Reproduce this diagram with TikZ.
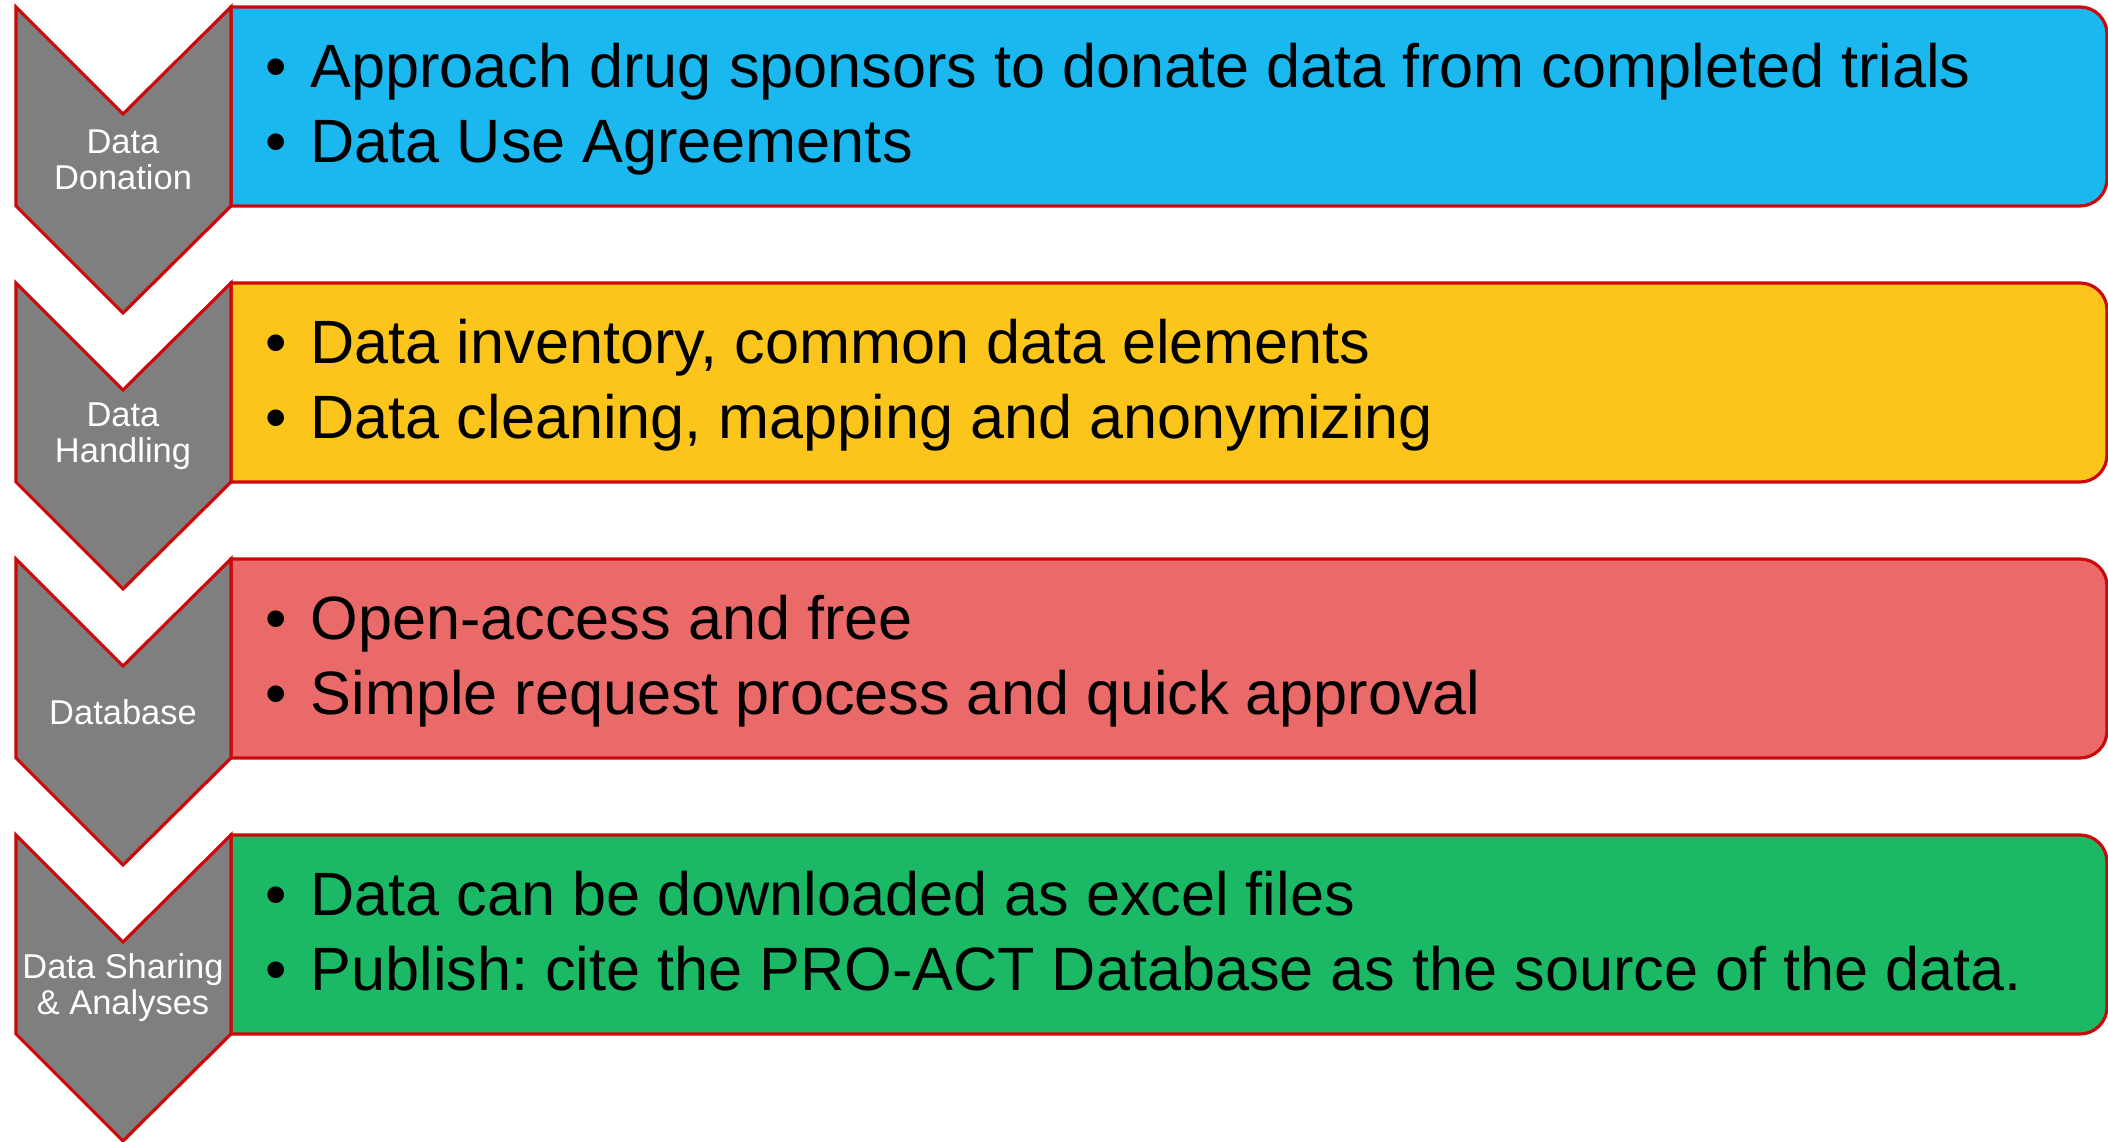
\documentclass[tikz,border=0pt]{standalone}
\usepackage{fontspec}
\setmainfont{Liberation Sans}
\frenchspacing
\definecolor{chevgray}{RGB}{127,127,127}
\definecolor{edgered}{RGB}{204,8,8}
\definecolor{bandblue}{RGB}{27,183,239}
\definecolor{bandyellow}{RGB}{252,197,28}
\definecolor{bandred}{RGB}{234,106,106}
\definecolor{bandgreen}{RGB}{27,184,101}

\begin{document}
\begin{tikzpicture}[x=0.01cm,y=0.01cm,
        chevron/.style={fill=chevgray,draw=edgered,line width=0.9pt,line join=miter},
        band/.style={draw=edgered,line width=0.9pt},
        steplabel/.style={text=white,align=center,inner sep=0pt,
            font=\fontsize{9.8}{10.25}\selectfont},
        item/.style={anchor=base west,inner sep=0pt,
            font=\fontsize{17.4}{21.3}\selectfont}]
    \useasboundingbox (0,0) rectangle (2108,1142);

    % Data Donation
    \begin{scope}[shift={(0,1135)}]
        \draw[band,fill=bandblue]
            (231,0) -- (2080,0) arc[start angle=90,end angle=0,radius=27]
                    -- (2107,-172) arc[start angle=0,end angle=-90,radius=27]
                    -- (231,-199) -- cycle;
        \draw[chevron] (16,0) -- (123,-107) -- (231,0) -- (231,-199)
                    -- (123,-306) -- (16,-199) -- cycle;
        \node[steplabel] (donation) at (123,-153) {Data\\Donation};
        \node[item] (donation1) at (265,-81)
            {\makebox[0.45cm][l]{•}Approach drug sponsors to donate data from completed trials};
        \node[item] (donation2) at (265,-156)
            {\makebox[0.45cm][l]{•}Data Use Agreements};
    \end{scope}

    % Data Handling
    \begin{scope}[shift={(0,859)}]
        \draw[band,fill=bandyellow]
            (231,0) -- (2080,0) arc[start angle=90,end angle=0,radius=27]
                    -- (2107,-172) arc[start angle=0,end angle=-90,radius=27]
                    -- (231,-199) -- cycle;
        \draw[chevron] (16,0) -- (123,-107) -- (231,0) -- (231,-199)
                    -- (123,-306) -- (16,-199) -- cycle;
        \node[steplabel] (handling) at (123,-153) {Data\\Handling};
        \node[item] (handling1) at (265,-81)
            {\makebox[0.45cm][l]{•}Data inventory, common data elements};
        \node[item] (handling2) at (265,-156)
            {\makebox[0.45cm][l]{•}Data cleaning, mapping and anonymizing};
    \end{scope}

    % Database
    \begin{scope}[shift={(0,583)}]
        \draw[band,fill=bandred]
            (231,0) -- (2080,0) arc[start angle=90,end angle=0,radius=27]
                    -- (2107,-172) arc[start angle=0,end angle=-90,radius=27]
                    -- (231,-199) -- cycle;
        \draw[chevron] (16,0) -- (123,-107) -- (231,0) -- (231,-199)
                    -- (123,-306) -- (16,-199) -- cycle;
        \node[steplabel] (database) at (123,-153) {Database};
        \node[item] (database1) at (265,-81)
            {\makebox[0.45cm][l]{•}Open-access and free};
        \node[item] (database2) at (265,-156)
            {\makebox[0.45cm][l]{•}Simple request process and quick approval};
    \end{scope}

    % Data Sharing & Analyses
    \begin{scope}[shift={(0,307)}]
        \draw[band,fill=bandgreen]
            (231,0) -- (2080,0) arc[start angle=90,end angle=0,radius=27]
                    -- (2107,-172) arc[start angle=0,end angle=-90,radius=27]
                    -- (231,-199) -- cycle;
        \draw[chevron] (16,0) -- (123,-107) -- (231,0) -- (231,-199)
                    -- (123,-306) -- (16,-199) -- cycle;
        \node[steplabel] (sharing) at (123,-153) {Data Sharing\\\& Analyses};
        \node[item] (sharing1) at (265,-81)
            {\makebox[0.45cm][l]{•}Data can be downloaded as excel files};
        \node[item] (sharing2) at (265,-156)
            {\makebox[0.45cm][l]{•}Publish: cite the PRO-ACT Database as the source of the data.};
    \end{scope}
\end{tikzpicture}
\end{document}
